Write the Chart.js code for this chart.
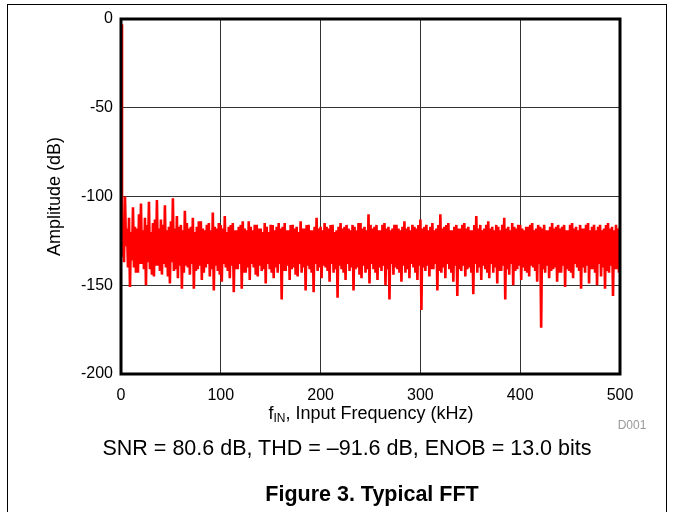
<!DOCTYPE html>
<html>
<head>
<meta charset="utf-8">
<script src="https://cdn.jsdelivr.net/npm/chart.js@4.4.1/dist/chart.umd.min.js"></script>
<style>
  html, body { margin: 0; padding: 0; background: #fff; }
  body { width: 673px; height: 512px; position: relative; overflow: hidden;
         font-family: "Liberation Sans", Arial, sans-serif; color: #000; }
  #frame { position: absolute; left: 7px; top: 4px; width: 660px; height: 520px;
           border: 1px solid #000; box-sizing: border-box; }
  #wrap { position: absolute; left: 0; top: 0; width: 673px; height: 512px; }
  .txt { position: absolute; white-space: nowrap; transform: translateX(-50%); }
  #xtitle { left: 371px; top: 403px; font-size: 18px; }
  #xtitle sub { font-size: 12px; vertical-align: -3px; }
  #code { left: 632px; top: 418px; font-size: 12px; color: #999; }
  #snr { left: 347px; top: 436px; font-size: 21.5px; }
  #fig { left: 372px; top: 482px; font-size: 21.5px; font-weight: bold; }
</style>
</head>
<body>
<div id="frame"></div>
<div id="wrap"><canvas id="fftChart" width="673" height="512"></canvas></div>
<div class="txt" id="xtitle">f<sub>IN</sub>, Input Frequency (kHz)</div>
<div class="txt" id="code">D001</div>
<div class="txt" id="snr">SNR = 80.6 dB, THD = &ndash;91.6 dB, ENOB = 13.0 bits</div>
<div class="txt" id="fig">Figure 3. Typical FFT</div>
<script>
// FFT bins are 1 kHz apart, 0 to 500 kHz
const binWidthKHz = 1;

// Amplitude (dB) of each bin (one row = 20 kHz)
const amplitudeDb = [
  -3, -134, -115, -137, -100, -128, -118, -140, -112, -151, -120, -136, -106, -140, -117, -143, -118, -143, -110, -138,
  -104, -138, -119, -141, -112, -150, -116, -137, -103, -141, -120, -144, -115, -145, -113, -139, -102, -139, -118, -142,
  -113, -144, -116, -138, -105, -140, -119, -145, -117, -149, -114, -137, -101, -142, -118, -141, -111, -146, -117, -139,
  -116, -152, -119, -143, -108, -139, -115, -140, -118, -144, -117, -138, -112, -152, -120, -142, -117, -141, -114, -139,
  -114, -147, -118, -143, -119, -140, -116, -138, -115, -145, -119, -141, -109, -153, -117, -139, -118, -142, -115, -144,
  -116, -148, -118, -138, -111, -140, -120, -142, -117, -146, -116, -139, -115, -154, -119, -141, -119, -141, -117, -138,
  -116, -152, -114, -143, -118, -143, -119, -140, -114, -147, -117, -138, -119, -140, -116, -144, -116, -145, -118, -139,
  -118, -142, -120, -141, -115, -149, -117, -138, -120, -141, -116, -143, -116, -146, -119, -140, -117, -143, -115, -138,
  -118, -158, -117, -142, -115, -142, -119, -139, -119, -147, -116, -141, -116, -140, -118, -144, -117, -145, -120, -138,
  -114, -143, -118, -140, -118, -153, -116, -139, -116, -141, -119, -143, -119, -154, -117, -138, -112, -142, -118, -140,
  -117, -146, -119, -139, -115, -140, -117, -142, -118, -148, -116, -138, -116, -143, -120, -141, -119, -157, -117, -139,
  -115, -141, -118, -143, -117, -147, -116, -138, -118, -142, -119, -140, -116, -153, -117, -141, -119, -140, -115, -144,
  -115, -146, -118, -139, -117, -143, -119, -141, -110, -149, -116, -138, -118, -141, -117, -143, -116, -147, -119, -140,
  -119, -142, -116, -139, -115, -150, -118, -141, -117, -158, -119, -138, -118, -144, -116, -140, -116, -141, -118, -143,
  -119, -148, -117, -139, -114, -143, -118, -141, -117, -146, -119, -138, -116, -140, -117, -143, -118, -147, -116, -139,
  -113, -164, -118, -140, -117, -142, -116, -139, -119, -145, -117, -141, -115, -141, -119, -138, -118, -153, -116, -142,
  -110, -143, -118, -140, -117, -146, -116, -138, -115, -141, -119, -143, -119, -148, -117, -139, -116, -156, -118, -141,
  -118, -142, -116, -139, -115, -145, -118, -141, -117, -140, -119, -143, -119, -155, -116, -138, -111, -143, -118, -140,
  -116, -147, -119, -139, -118, -141, -116, -143, -114, -146, -118, -138, -117, -143, -119, -140, -116, -149, -117, -142,
  -119, -142, -116, -139, -112, -158, -118, -141, -117, -144, -119, -138, -115, -150, -117, -142, -118, -141, -116, -139,
  -116, -147, -118, -140, -119, -142, -117, -143, -117, -145, -116, -139, -115, -140, -119, -142, -118, -148, -116, -138,
  -117, -174, -118, -141, -116, -143, -119, -139, -119, -146, -117, -142, -115, -141, -118, -140, -117, -148, -116, -143,
  -118, -143, -117, -139, -116, -151, -119, -141, -119, -142, -116, -143, -115, -146, -118, -138, -117, -140, -119, -142,
  -116, -152, -118, -140, -118, -143, -116, -139, -115, -149, -119, -141, -117, -141, -116, -143, -119, -150, -117, -138,
  -116, -145, -119, -140, -118, -152, -116, -142, -115, -143, -118, -139, -117, -156, -119, -141, -116, -141, -118, -143,
  -117
];

const xTicks = [0, 100, 200, 300, 400, 500];
const yTicks = [-200, -150, -100, -50, 0];

const points = amplitudeDb.map((db, i) => ({ x: i * binWidthKHz, y: db }));

// thick black box round the plot area
const plotBox = {
  id: "plotBox",
  afterDraw(chart) {
    const a = chart.chartArea;
    const ctx = chart.ctx;
    ctx.save();
    ctx.strokeStyle = "#000";
    ctx.lineWidth = 3;
    ctx.strokeRect(a.left, a.top, a.right - a.left, a.bottom - a.top);
    ctx.restore();
  }
};

const tickFont = { family: "'Liberation Sans', Arial, sans-serif", size: 16 };

new Chart(document.getElementById("fftChart"), {
  type: "line",
  data: {
    datasets: [{
      data: points,
      borderColor: "#ff0000",
      borderWidth: 2.6,
      pointRadius: 0,
      tension: 0,
      fill: false
    }]
  },
  options: {
    responsive: false,
    animation: false,
    layout: { padding: { left: 0, top: 19, right: 53, bottom: 98 } },
    plugins: { legend: { display: false }, tooltip: { enabled: false } },
    scales: {
      x: {
        type: "linear",
        min: 0, max: 500,
        afterBuildTicks: s => { s.ticks = xTicks.map(v => ({ value: v })); },
        afterFit: s => { s.height = 40; },
        grid: { color: "#333", lineWidth: 1, drawTicks: false },
        border: { display: false },
        ticks: { color: "#000", font: tickFont, padding: 12, maxRotation: 0 }
      },
      y: {
        min: -200, max: 0,
        afterBuildTicks: s => { s.ticks = yTicks.map(v => ({ value: v })); },
        afterFit: s => { s.width = 121; },
        grid: { color: "#333", lineWidth: 1, drawTicks: false },
        border: { display: false },
        ticks: { color: "#000", font: tickFont, padding: 8 },
        title: {
          display: true,
          text: "Amplitude (dB)",
          color: "#000",
          font: { family: "'Liberation Sans', Arial, sans-serif", size: 18 },
          padding: { top: 44, bottom: 0 }
        }
      }
    }
  },
  plugins: [plotBox]
});
</script>
</body>
</html>
